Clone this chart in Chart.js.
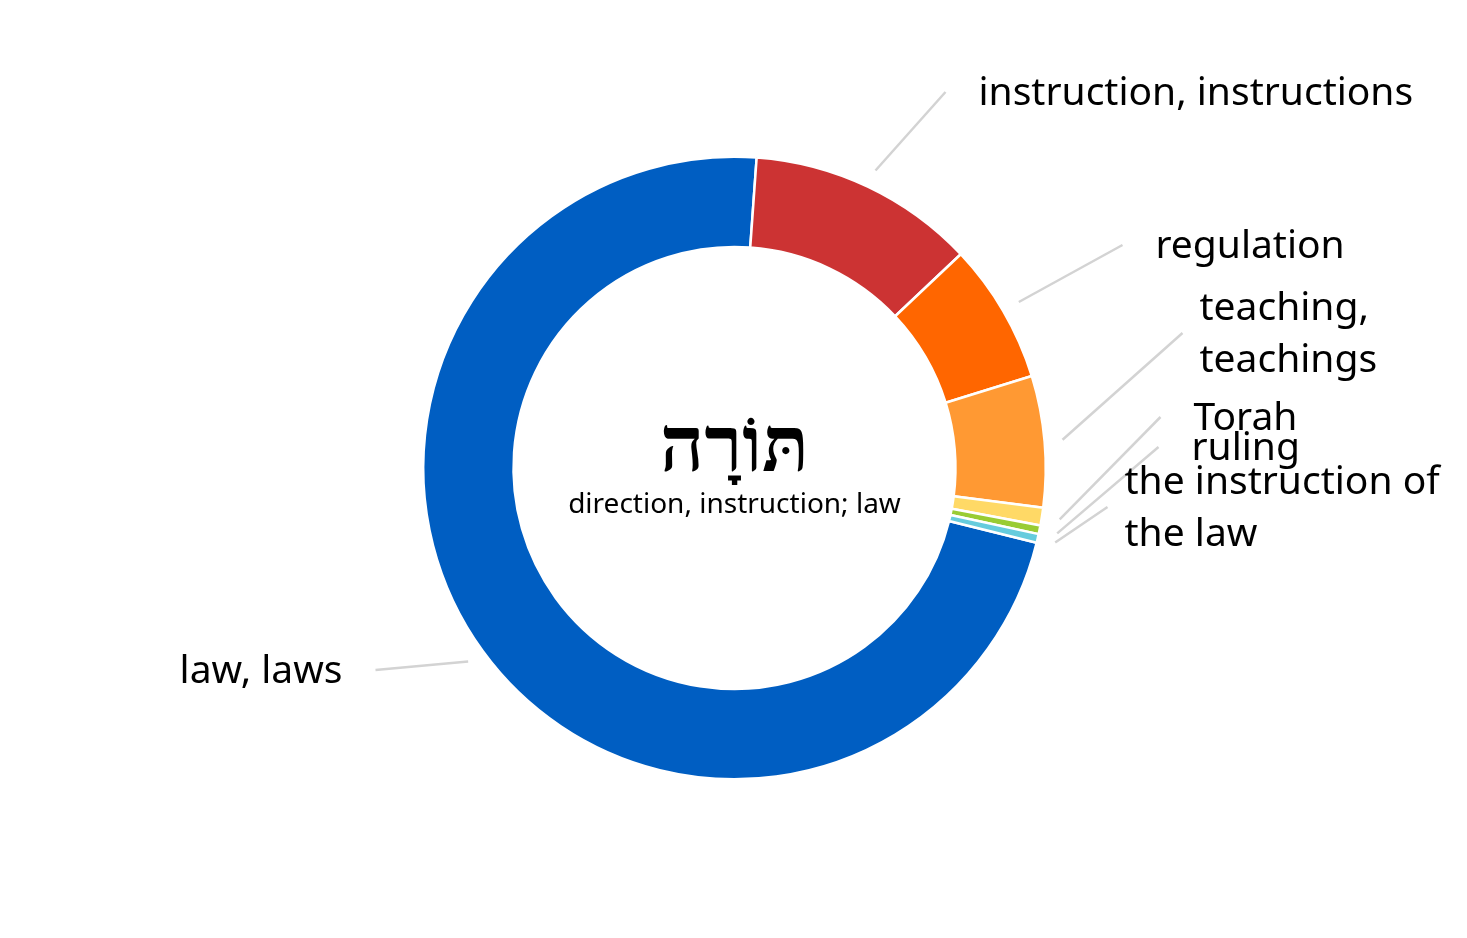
<!DOCTYPE html>
<html>
<head>
<meta charset="utf-8">
<script src="https://cdn.jsdelivr.net/npm/chart.js@4"></script>
<style>
  html, body { margin: 0; background: #fff; }
  #wrap { width: 1467px; height: 938px; }
</style>
</head>
<body>
<div id="wrap"><canvas id="toraChart"></canvas></div>
<script>
// Translations of תּוֹרָה and how often each is used
const senses = [['law, laws'], ['instruction, instructions'], ['regulation'], ['teaching,', 'teachings'], ['Torah'], ['ruling'], ['the instruction of', 'the law']];
const counts = [159, 26, 16, 15, 2, 1, 1];
const sliceColors = ['#005EC2', '#CC3333', '#FF6600', '#FF9933', '#FFD966', '#99CC33', '#66CCDD'];

const headword = 'תּוֹרָה';
const gloss = 'direction, instruction; law';

// where each callout line ends, relative to the doughnut centre
const labelEnds = [[-359, 202], [211, -376], [388, -223], [448, -135], [426, -51], [424, -21], [373, 39]];

const labelFont = '39px "Noto Sans", sans-serif';

const calloutPlugin = {
    id: 'callouts',
    afterDatasetsDraw(chart) {
        const ctx = chart.ctx;
        const meta = chart.getDatasetMeta(0);
        let cx = 0, cy = 0;
        ctx.save();
        meta.data.forEach((arc, i) => {
            const p = arc.getProps(['x', 'y', 'startAngle', 'endAngle', 'outerRadius'], true);
            cx = p.x; cy = p.y;
            const mid = (p.startAngle + p.endAngle) / 2;
            const sx = p.x + Math.cos(mid) * (p.outerRadius + 18);
            const sy = p.y + Math.sin(mid) * (p.outerRadius + 18);
            const ex = p.x + labelEnds[i][0];
            const ey = p.y + labelEnds[i][1];
            ctx.strokeStyle = '#d3d3d3';
            ctx.lineWidth = 2.5;
            ctx.beginPath();
            ctx.moveTo(sx, sy);
            ctx.lineTo(ex, ey);
            ctx.stroke();

            const lines = senses[i];
            const right = ex > p.x;
            const gap = lines.length > 1 ? 17 : 33;
            const lineH = 52;
            ctx.font = labelFont;
            ctx.fillStyle = '#000';
            ctx.textAlign = right ? 'left' : 'right';
            ctx.textBaseline = 'middle';
            const top = ey - (lines.length - 1) * lineH / 2 + 2;
            lines.forEach((t, k) => {
                ctx.fillText(t, right ? ex + gap : ex - gap, top + k * lineH);
            });
        });

        // centre text
        ctx.textAlign = 'center';
        ctx.textBaseline = 'alphabetic';
        ctx.fillStyle = '#000';
        ctx.font = 'bold 77px "Liberation Serif", "DejaVu Sans", serif';
        ctx.fillText(headword, cx, cy + 3);
        ctx.font = '28px "Noto Sans", sans-serif';
        ctx.fillText(gloss, cx, cy + 45);
        ctx.restore();
    }
};

new Chart(document.getElementById('toraChart'), {
    type: 'doughnut',
    data: {
        labels: senses,
        datasets: [{
            data: counts,
            backgroundColor: sliceColors,
            borderColor: '#ffffff',
            borderWidth: 2.5
        }]
    },
    options: {
        responsive: true,
        maintainAspectRatio: false,
        animation: false,
        rotation: 103.9,
        cutout: '71%',
        layout: { padding: { left: 422, right: 420, top: 155, bottom: 157 } },
        plugins: {
            legend: { display: false },
            tooltip: { enabled: false }
        }
    },
    plugins: [calloutPlugin]
});
</script>
</body>
</html>
